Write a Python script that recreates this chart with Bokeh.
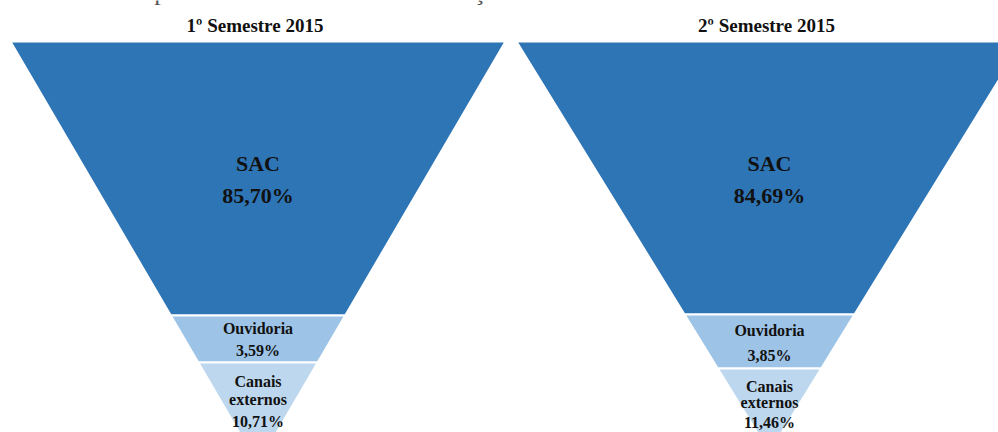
from bokeh.plotting import figure
from bokeh.models import Range1d
from bokeh.core.properties import value
from bokeh.embed import file_html
from bokeh.resources import INLINE

# ---- data ----
categories = ["SAC", "Ouvidoria", "Canais externos"]
sem1_values = [85.70, 3.59, 10.71]
sem2_values = [84.69, 3.85, 11.46]
panel_titles = ["1º Semestre 2015", "2º Semestre 2015"]
chart_title = "Gráfico 1 – Representatividade das manifestações nos canais"

# ---- layout / style ----
W, H = 998, 432
colors = ["#2E75B6", "#9DC3E6", "#BDD7EE"]
FONT = value("Liberation Serif")

panels = [
    dict(values=sem1_values, title=panel_titles[0], cx=257.5, top=41, apex=464,
         half=247.5, bounds=[315, 362],
         label_y=[[163, 195], [328, 350], [381, 399, 421]]),
    dict(values=sem2_values, title=panel_titles[1], cx=769, top=41, apex=452,
         half=253, bounds=[314, 368],
         label_y=[[163, 195], [330, 355], [386, 402, 422]]),
]

p = figure(width=W, height=H, output_backend="svg", toolbar_location=None,
           x_range=Range1d(0, W), y_range=Range1d(H, 0), min_border=0)
p.axis.visible = False
p.grid.visible = False
p.outline_line_color = None
p.background_fill_color = "white"


def fmt(v):
    return f"{v:.2f}".replace(".", ",") + "%"


for pn in panels:
    cx, y0, ya, h0 = pn["cx"], pn["top"], pn["apex"], pn["half"]

    def hw(y):
        return h0 * (ya - y) / (ya - y0)

    edges = [y0] + pn["bounds"] + [ya]
    xs, ys = [], []
    for i in range(len(categories)):
        yt, yb = edges[i], edges[i + 1]
        ht, hb = hw(yt), hw(yb)
        xs.append([cx - ht, cx + ht, cx + hb, cx - hb])
        ys.append([yt, yt, yb, yb])
    p.patches(xs, ys, fill_color=colors, line_color="white", line_width=2)

    # labels
    for i, cat in enumerate(categories):
        v = pn["values"][i]
        lines = cat.split(" ") if i == 2 else [cat]
        lines = lines + [fmt(v)]
        size = "22px" if i == 0 else "16px"
        p.text(x=[cx] * len(lines), y=pn["label_y"][i], text=lines,
               text_font=FONT, text_font_style="bold", text_font_size=size,
               text_color="#111111", text_align="center", text_baseline="middle")

    p.text(x=[cx - 3], y=[25], text=[pn["title"]], text_font=FONT,
           text_font_style="bold", text_font_size="19px", text_color="#111111",
           text_align="center", text_baseline="middle")

# caption of the page, only its lower edge shows at the top border
p.text(x=[0], y=[-9], text=[chart_title], text_font=FONT, text_font_size="26px",
       text_color="#555555", text_align="left", text_baseline="alphabetic")

open("out.html", "w").write(file_html(p, INLINE))
